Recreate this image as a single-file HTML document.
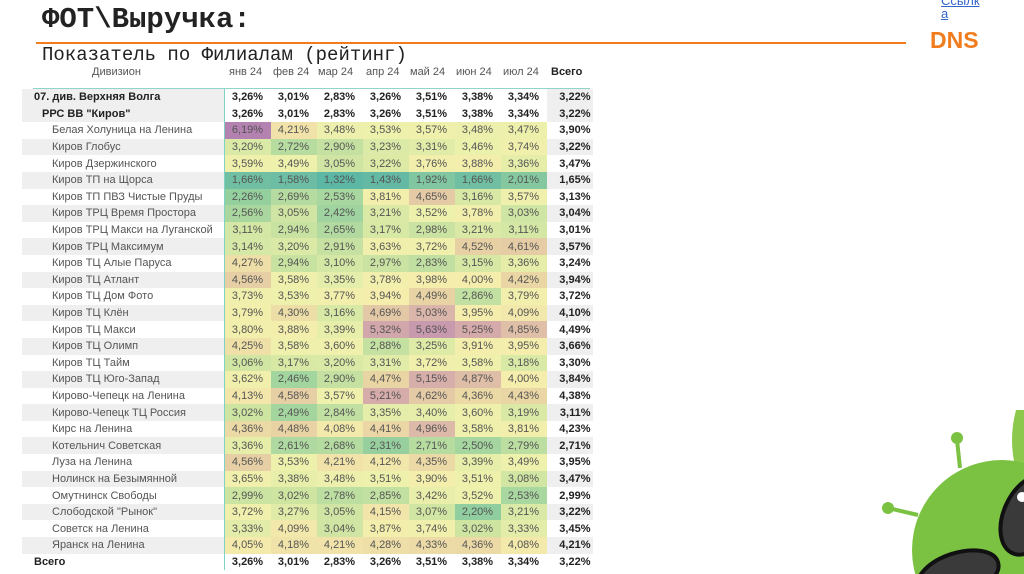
<!DOCTYPE html>
<html><head><meta charset="utf-8">
<style>
body{margin:0;width:1024px;height:574px;overflow:hidden;background:#fff;position:relative;font-family:"Liberation Sans","DejaVu Sans",sans-serif}
.t{position:absolute;left:42px;top:3px;font:bold 29px "Liberation Mono",monospace;color:#222;letter-spacing:0px}
.ol{position:absolute;left:36px;top:42px;width:870px;height:2px;background:#f07c1e}
.st{position:absolute;left:42px;top:44px;font:19px "Liberation Mono",monospace;color:#222;line-height:22px}
.lnk{position:absolute;left:941px;top:-6px;font:13px "Liberation Sans",sans-serif;color:#3366cc;text-decoration:underline;line-height:13px}
.dns{position:absolute;left:930px;top:27px;font:bold 23px "Liberation Sans",sans-serif;color:#f07c1e}
table{position:absolute;left:22px;top:89px;border-collapse:collapse;table-layout:fixed;font-size:11px;color:#555}
td{height:16.6px;padding:0;white-space:nowrap;overflow:hidden;line-height:14px}
td.n{width:46px;text-align:center}
td.a{width:44px;text-align:right;font-weight:bold;color:#222;padding-right:2px}
td.l{width:202px;padding-left:30px;box-sizing:border-box;border-right:1px solid #7fd3c4}
tr.g td.l,tr.g td.a{background:#efefef}
tr.b td{font-weight:bold;color:#222}
.hd{position:absolute;top:66px;font-size:11px;color:#555}
.hl{position:absolute;left:33px;top:88px;width:557px;height:1px;background:#8fd6c8}
</style></head><body>
<div class="t">ФОТ\Выручка:</div>
<div class="ol"></div>
<div class="st">Показатель по Филиалам (рейтинг)</div>
<div class="lnk">Ссылк<br>а</div>
<div class="dns">DNS</div>
<div class="hd" style="left:92px">Дивизион</div>
<div class="hd" style="left:229px">янв 24</div>
<div class="hd" style="left:273px">фев 24</div>
<div class="hd" style="left:318px">мар 24</div>
<div class="hd" style="left:366px">апр 24</div>
<div class="hd" style="left:410px">май 24</div>
<div class="hd" style="left:456px">июн 24</div>
<div class="hd" style="left:503px">июл 24</div>
<div class="hd" style="left:551px;font-weight:bold;color:#222">Всего</div>
<div class="hl"></div>
<table id="tb">
<tr class="b g"><td class="l" style="padding-left:12px">07. див. Верхняя Волга</td><td class="n">3,26%</td><td class="n">3,01%</td><td class="n">2,83%</td><td class="n">3,26%</td><td class="n">3,51%</td><td class="n">3,38%</td><td class="n">3,34%</td><td class="a">3,22%</td></tr>
<tr class="b g"><td class="l" style="padding-left:20px">РРС ВВ "Киров"</td><td class="n">3,26%</td><td class="n">3,01%</td><td class="n">2,83%</td><td class="n">3,26%</td><td class="n">3,51%</td><td class="n">3,38%</td><td class="n">3,34%</td><td class="a">3,22%</td></tr>
<tr class="c"><td class="l">Белая Холуница на Ленина</td><td class="n">6,19%</td><td class="n">4,21%</td><td class="n">3,48%</td><td class="n">3,53%</td><td class="n">3,57%</td><td class="n">3,48%</td><td class="n">3,47%</td><td class="a">3,90%</td></tr>
<tr class="c g"><td class="l">Киров Глобус</td><td class="n">3,20%</td><td class="n">2,72%</td><td class="n">2,90%</td><td class="n">3,23%</td><td class="n">3,31%</td><td class="n">3,46%</td><td class="n">3,74%</td><td class="a">3,22%</td></tr>
<tr class="c"><td class="l">Киров Дзержинского</td><td class="n">3,59%</td><td class="n">3,49%</td><td class="n">3,05%</td><td class="n">3,22%</td><td class="n">3,76%</td><td class="n">3,88%</td><td class="n">3,36%</td><td class="a">3,47%</td></tr>
<tr class="c g"><td class="l">Киров ТП на Щорса</td><td class="n">1,66%</td><td class="n">1,58%</td><td class="n">1,32%</td><td class="n">1,43%</td><td class="n">1,92%</td><td class="n">1,66%</td><td class="n">2,01%</td><td class="a">1,65%</td></tr>
<tr class="c"><td class="l">Киров ТП ПВЗ Чистые Пруды</td><td class="n">2,26%</td><td class="n">2,69%</td><td class="n">2,53%</td><td class="n">3,81%</td><td class="n">4,65%</td><td class="n">3,16%</td><td class="n">3,57%</td><td class="a">3,13%</td></tr>
<tr class="c g"><td class="l">Киров ТРЦ Время Простора</td><td class="n">2,56%</td><td class="n">3,05%</td><td class="n">2,42%</td><td class="n">3,21%</td><td class="n">3,52%</td><td class="n">3,78%</td><td class="n">3,03%</td><td class="a">3,04%</td></tr>
<tr class="c"><td class="l">Киров ТРЦ Макси на Луганской</td><td class="n">3,11%</td><td class="n">2,94%</td><td class="n">2,65%</td><td class="n">3,17%</td><td class="n">2,98%</td><td class="n">3,21%</td><td class="n">3,11%</td><td class="a">3,01%</td></tr>
<tr class="c g"><td class="l">Киров ТРЦ Максимум</td><td class="n">3,14%</td><td class="n">3,20%</td><td class="n">2,91%</td><td class="n">3,63%</td><td class="n">3,72%</td><td class="n">4,52%</td><td class="n">4,61%</td><td class="a">3,57%</td></tr>
<tr class="c"><td class="l">Киров ТЦ Алые Паруса</td><td class="n">4,27%</td><td class="n">2,94%</td><td class="n">3,10%</td><td class="n">2,97%</td><td class="n">2,83%</td><td class="n">3,15%</td><td class="n">3,36%</td><td class="a">3,24%</td></tr>
<tr class="c g"><td class="l">Киров ТЦ Атлант</td><td class="n">4,56%</td><td class="n">3,58%</td><td class="n">3,35%</td><td class="n">3,78%</td><td class="n">3,98%</td><td class="n">4,00%</td><td class="n">4,42%</td><td class="a">3,94%</td></tr>
<tr class="c"><td class="l">Киров ТЦ Дом Фото</td><td class="n">3,73%</td><td class="n">3,53%</td><td class="n">3,77%</td><td class="n">3,94%</td><td class="n">4,49%</td><td class="n">2,86%</td><td class="n">3,79%</td><td class="a">3,72%</td></tr>
<tr class="c g"><td class="l">Киров ТЦ Клён</td><td class="n">3,79%</td><td class="n">4,30%</td><td class="n">3,16%</td><td class="n">4,69%</td><td class="n">5,03%</td><td class="n">3,95%</td><td class="n">4,09%</td><td class="a">4,10%</td></tr>
<tr class="c"><td class="l">Киров ТЦ Макси</td><td class="n">3,80%</td><td class="n">3,88%</td><td class="n">3,39%</td><td class="n">5,32%</td><td class="n">5,63%</td><td class="n">5,25%</td><td class="n">4,85%</td><td class="a">4,49%</td></tr>
<tr class="c g"><td class="l">Киров ТЦ Олимп</td><td class="n">4,25%</td><td class="n">3,58%</td><td class="n">3,60%</td><td class="n">2,88%</td><td class="n">3,25%</td><td class="n">3,91%</td><td class="n">3,95%</td><td class="a">3,66%</td></tr>
<tr class="c"><td class="l">Киров ТЦ Тайм</td><td class="n">3,06%</td><td class="n">3,17%</td><td class="n">3,20%</td><td class="n">3,31%</td><td class="n">3,72%</td><td class="n">3,58%</td><td class="n">3,18%</td><td class="a">3,30%</td></tr>
<tr class="c g"><td class="l">Киров ТЦ Юго-Запад</td><td class="n">3,62%</td><td class="n">2,46%</td><td class="n">2,90%</td><td class="n">4,47%</td><td class="n">5,15%</td><td class="n">4,87%</td><td class="n">4,00%</td><td class="a">3,84%</td></tr>
<tr class="c"><td class="l">Кирово-Чепецк на Ленина</td><td class="n">4,13%</td><td class="n">4,58%</td><td class="n">3,57%</td><td class="n">5,21%</td><td class="n">4,62%</td><td class="n">4,36%</td><td class="n">4,43%</td><td class="a">4,38%</td></tr>
<tr class="c g"><td class="l">Кирово-Чепецк ТЦ Россия</td><td class="n">3,02%</td><td class="n">2,49%</td><td class="n">2,84%</td><td class="n">3,35%</td><td class="n">3,40%</td><td class="n">3,60%</td><td class="n">3,19%</td><td class="a">3,11%</td></tr>
<tr class="c"><td class="l">Кирс на Ленина</td><td class="n">4,36%</td><td class="n">4,48%</td><td class="n">4,08%</td><td class="n">4,41%</td><td class="n">4,96%</td><td class="n">3,58%</td><td class="n">3,81%</td><td class="a">4,23%</td></tr>
<tr class="c g"><td class="l">Котельнич Советская</td><td class="n">3,36%</td><td class="n">2,61%</td><td class="n">2,68%</td><td class="n">2,31%</td><td class="n">2,71%</td><td class="n">2,50%</td><td class="n">2,79%</td><td class="a">2,71%</td></tr>
<tr class="c"><td class="l">Луза на Ленина</td><td class="n">4,56%</td><td class="n">3,53%</td><td class="n">4,21%</td><td class="n">4,12%</td><td class="n">4,35%</td><td class="n">3,39%</td><td class="n">3,49%</td><td class="a">3,95%</td></tr>
<tr class="c g"><td class="l">Нолинск на Безымянной</td><td class="n">3,65%</td><td class="n">3,38%</td><td class="n">3,48%</td><td class="n">3,51%</td><td class="n">3,90%</td><td class="n">3,51%</td><td class="n">3,08%</td><td class="a">3,47%</td></tr>
<tr class="c"><td class="l">Омутнинск Свободы</td><td class="n">2,99%</td><td class="n">3,02%</td><td class="n">2,78%</td><td class="n">2,85%</td><td class="n">3,42%</td><td class="n">3,52%</td><td class="n">2,53%</td><td class="a">2,99%</td></tr>
<tr class="c g"><td class="l">Слободской "Рынок"</td><td class="n">3,72%</td><td class="n">3,27%</td><td class="n">3,05%</td><td class="n">4,15%</td><td class="n">3,07%</td><td class="n">2,20%</td><td class="n">3,21%</td><td class="a">3,22%</td></tr>
<tr class="c"><td class="l">Советск на Ленина</td><td class="n">3,33%</td><td class="n">4,09%</td><td class="n">3,04%</td><td class="n">3,87%</td><td class="n">3,74%</td><td class="n">3,02%</td><td class="n">3,33%</td><td class="a">3,45%</td></tr>
<tr class="c g"><td class="l">Яранск на Ленина</td><td class="n">4,05%</td><td class="n">4,18%</td><td class="n">4,21%</td><td class="n">4,28%</td><td class="n">4,33%</td><td class="n">4,36%</td><td class="n">4,08%</td><td class="a">4,21%</td></tr>
<tr class="b"><td class="l" style="padding-left:12px;background:#fff">Всего</td><td class="n">3,26%</td><td class="n">3,01%</td><td class="n">2,83%</td><td class="n">3,26%</td><td class="n">3,51%</td><td class="n">3,38%</td><td class="n">3,34%</td><td class="a" style="background:#fff">3,22%</td></tr>
</table>
<svg style="position:absolute;left:880px;top:400px" width="144" height="174">
<path d="M136 10 q-8 30 0 60 L144 70 L144 10Z" fill="#8cc84b"/>
<line x1="77" y1="40" x2="80" y2="68" stroke="#7cc242" stroke-width="4"/>
<circle cx="77" cy="38" r="6" fill="#7cc242"/>
<line x1="8" y1="108" x2="38" y2="115" stroke="#7cc242" stroke-width="4"/>
<circle cx="8" cy="108" r="6" fill="#7cc242"/>
<circle cx="122" cy="150" r="90" fill="#7cc242"/>
<ellipse cx="150" cy="115" rx="26" ry="42" transform="rotate(25 150 115)" fill="#3a3a3a" stroke="#111" stroke-width="4"/>
<ellipse cx="78" cy="175" rx="42" ry="22" transform="rotate(-18 78 175)" fill="#3a3a3a" stroke="#111" stroke-width="4"/>
<circle cx="142" cy="97" r="5" fill="#fff"/>
<circle cx="47" cy="181" r="4" fill="#fff"/>
</svg>
<script>
var stops=[[1.3,[92,182,165]],[2.3,[150,208,158]],[3.0,[205,228,162]],[3.5,[238,241,172]],[4.0,[245,237,172]],[4.5,[232,210,164]],[5.2,[214,172,170]],[6.2,[180,130,176]]];
function col(v){if(v<=stops[0][0])return stops[0][1];for(var i=1;i<stops.length;i++){if(v<=stops[i][0]){var a=stops[i-1],b=stops[i],t=(v-a[0])/(b[0]-a[0]);return a[1].map(function(x,k){return Math.round(x+(b[1][k]-x)*t)})}}return stops[stops.length-1][1]}
document.querySelectorAll('tr.c td.n').forEach(function(td){var v=parseFloat(td.textContent.replace(',','.'));td.style.background='rgb('+col(v).join(',')+')'});
</script>
</body></html>
